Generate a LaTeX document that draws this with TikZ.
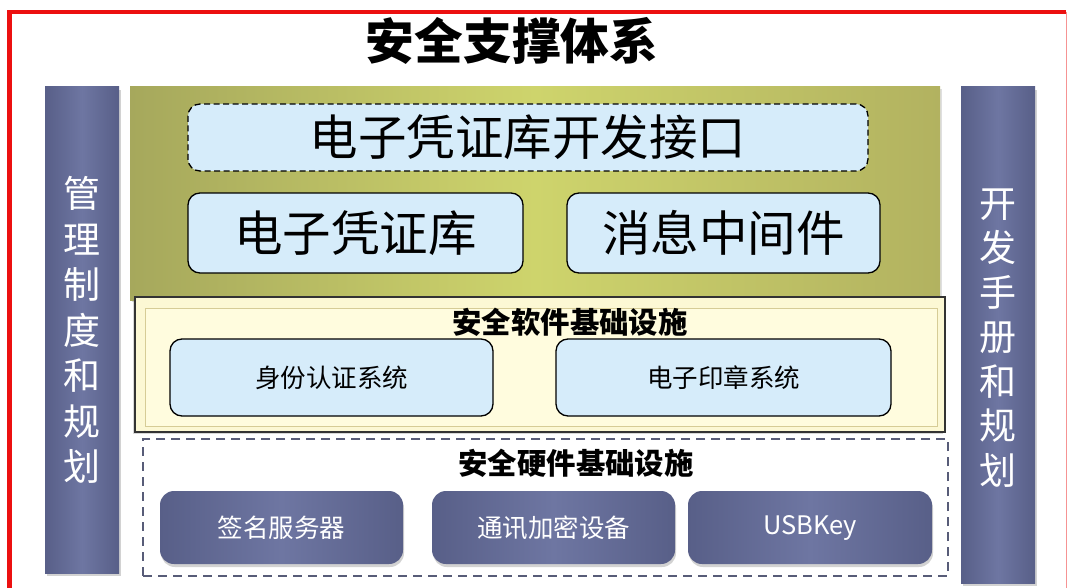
\documentclass[tikz,border=0pt]{standalone}
\usepackage{fontspec}
\setmainfont{Noto Sans CJK SC}
\usetikzlibrary{shadows}
\definecolor{lblue}{RGB}{214,236,250}
\definecolor{olA}{RGB}{166,168,92}
\definecolor{olB}{RGB}{206,212,108}
\definecolor{olC}{RGB}{178,178,96}
\definecolor{pbA}{RGB}{88,95,136}
\definecolor{pbB}{RGB}{110,118,162}
\definecolor{cream}{RGB}{252,248,212}
\definecolor{creamIn}{RGB}{255,252,222}
\definecolor{tan}{RGB}{214,204,150}
\definecolor{dashgray}{RGB}{88,92,120}
\definecolor{frame}{RGB}{236,16,16}
\tikzset{
  bluebox/.style={draw=black, line width=1.3pt, rounded corners=12pt, fill=lblue, inner sep=0pt, font=\fontsize{48.5}{48.5}\selectfont},
  smallblue/.style={bluebox, font=\fontsize{25.5}{25.5}\selectfont},
  purplebox/.style={rounded corners=14pt, left color=pbA, right color=pbA, middle color=pbB, text=white, inner sep=0pt,
     drop shadow={opacity=0.35, shadow xshift=1pt, shadow yshift=-3pt}, font=\fontsize{25.5}{25.5}\selectfont},
  sidebar/.style={left color=pbA, right color=pbA, middle color=pbB, text=white, inner sep=0pt, align=center,
     drop shadow={opacity=0.35, shadow xshift=2pt, shadow yshift=-3pt}},
  layertitle/.style={font=\bfseries\fontsize{29.4}{29.4}\selectfont, inner sep=0pt}
}
\begin{document}
\begin{tikzpicture}[x=1pt,y=-1pt]
\useasboundingbox (0,0) rectangle (1067,588);
\fill[white] (0,0) rectangle (1067,588);
% red frame
\draw[frame, line width=4.5pt] (9.5,600) -- (9.5,12) -- (1066,12);
\draw[frame!45, line width=1pt] (1066,12) -- (1066,600);
% title
\node[font=\bfseries\fontsize{48.7}{48.7}\selectfont, inner sep=0pt] (title) at (512,41) {安全支撑体系};
% side bars
\node[sidebar, minimum width=74pt, minimum height=486pt] (left) at (82,330) {};
\node[text=white, align=center, inner sep=0pt, font=\fontsize{37}{45.5}\selectfont] (lefttext) at (82,330) {管\\理\\制\\度\\和\\规\\划};
\node[sidebar, minimum width=74pt, minimum height=496pt] (right) at (998,335) {};
\node[text=white, align=center, inner sep=0pt, font=\fontsize{37}{44.5}\selectfont] (righttext) at (998,338) {开\\发\\手\\册\\和\\规\\划};
% olive block
\node[minimum width=810pt, minimum height=213pt, inner sep=0pt, left color=olA, right color=olC, middle color=olB,
   drop shadow={opacity=0.25, shadow xshift=2pt, shadow yshift=-2pt}] (olive) at (535,193.5) {};
\node[bluebox, dash pattern=on 6pt off 3.5pt, minimum width=680pt, minimum height=67pt] (api) at (528,137.5) {电子凭证库开发接口};
\node[bluebox, minimum width=335pt, minimum height=80pt] (lib) at (355.5,233) {电子凭证库};
\node[bluebox, minimum width=313pt, minimum height=80pt] (mq) at (723.5,233) {消息中间件};
% software layer
\node[draw=black!80, line width=1.6pt, fill=cream, minimum width=810pt, minimum height=135pt, inner sep=0pt,
   drop shadow={opacity=0.3, shadow xshift=-2pt, shadow yshift=-2pt}] (soft) at (540,364.5) {};
\node[draw=tan, line width=1pt, fill=creamIn, minimum width=792pt, minimum height=118pt, inner sep=0pt] (softin) at (541,367) {};
\node[layertitle] (softtitle) at (570,322) {安全软件基础设施};
\node[smallblue, minimum width=323pt, minimum height=77pt] (auth) at (331.5,377.5) {身份认证系统};
\node[smallblue, minimum width=335pt, minimum height=77pt] (seal) at (723.5,377.5) {电子印章系统};
% hardware layer
\node[draw=dashgray, dash pattern=on 9pt off 6pt, line width=1.6pt, fill=white, minimum width=805pt, minimum height=137pt, inner sep=0pt] (hw) at (545.5,507.5) {};
\node[layertitle] (hwtitle) at (576,463) {安全硬件基础设施};
\node[purplebox, minimum width=243pt, minimum height=73pt] (sign) at (281.5,527.5) {签名服务器};
\node[purplebox, minimum width=243pt, minimum height=73pt] (comm) at (553.5,527.5) {通讯加密设备};
\node[purplebox, minimum width=244pt, minimum height=73pt] (usb) at (810,527.5) {USBKey};
\end{tikzpicture}
\end{document}
